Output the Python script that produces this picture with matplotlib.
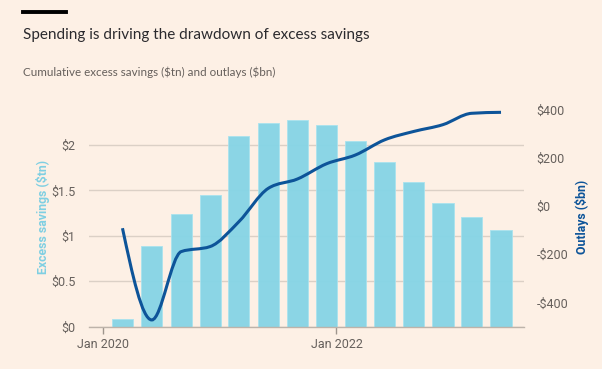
import matplotlib
matplotlib.use("Agg")
import matplotlib.pyplot as plt
import matplotlib.dates as mdates
from matplotlib.path import Path
from matplotlib.patches import PathPatch
from matplotlib.lines import Line2D
import numpy as np
import pandas as pd

# ---- data ----
dates = ["2020-03-01", "2020-06-01", "2020-09-01", "2020-12-01",
         "2021-03-01", "2021-06-01", "2021-09-01", "2021-12-01",
         "2022-03-01", "2022-06-01", "2022-09-01", "2022-12-01",
         "2023-03-01", "2023-06-01"]
excess_savings_tn = [0.08, 0.885, 1.24, 1.45, 2.10, 2.24, 2.28, 2.22,
                     2.04, 1.81, 1.59, 1.36, 1.21, 1.07]
outlays_bn = [-92, -472, -189, -168, -65, 73, 112, 175,
              211, 274, 309, 337, 384, 388]
left_ticks = [0, 0.5, 1, 1.5, 2]
left_labels = ["\\$0", "\\$0.5", "\\$1", "\\$1.5", "\\$2"]
right_ticks = [-400, -200, 0, 200, 400]
right_labels = ["-\\$400", "-\\$200", "\\$0", "\\$200", "\\$400"]
x_ticks = ["2020-01-01", "2022-01-01"]
x_labels = ["Jan 2020", "Jan 2022"]

# ---- style ----
BG = "#fdf0e5"
BAR = "#87d5e6"
LINE = "#0d5499"
TXT = "#66605c"
GRID = "#dbd0c6"

plt.rcParams["font.family"] = ["Roboto", "DejaVu Sans"]

fig = plt.figure(figsize=(6.02, 3.69), dpi=100, facecolor=BG)
ax = fig.add_axes([89.3 / 602, 42.3 / 369, (524.3 - 89.3) / 602, (326.7 - 90.6) / 369])
ax.set_facecolor(BG)

x = mdates.date2num(pd.to_datetime(dates))
ax.bar(x, excess_savings_tn, width=66, color=BAR, edgecolor="#a9e2ee",
       linewidth=0.6, alpha=0.97, zorder=2)

ax.set_ylim(0, 2.6)
ax.set_xlim(mdates.date2num(pd.Timestamp("2019-11-18")),
            mdates.date2num(pd.Timestamp("2023-08-13")))
ax.set_yticks(left_ticks)
ax.set_yticklabels(left_labels)
ax.yaxis.grid(True, color=GRID, linewidth=1, zorder=0)
ax.set_axisbelow(True)
for s in ["top", "right", "left"]:
    ax.spines[s].set_visible(False)
ax.spines["bottom"].set_color("#bdb3aa")
ax.spines["bottom"].set_linewidth(1)
ax.tick_params(axis="y", length=0, pad=10, labelsize=9, labelcolor=TXT)
ax.set_xticks(mdates.date2num(pd.to_datetime(x_ticks)))
ax.set_xticklabels(x_labels)
ax.tick_params(axis="x", length=5, width=1, color="#9e958d", pad=3,
               labelsize=9, labelcolor=TXT)

ax2 = ax.twinx()
ax2.set_ylim(-500, 478)
ax2.set_yticks(right_ticks)
ax2.set_yticklabels(right_labels)
ax2.tick_params(axis="y", length=0, pad=9, labelsize=9, labelcolor=TXT)
for s in ax2.spines.values():
    s.set_visible(False)

# monotone cubic curve (d3 curveMonotoneX style) through the data points
xs = np.asarray(x, float)
ys = np.asarray(outlays_bn, float)
h = np.diff(xs)
d = np.diff(ys) / h
m = np.zeros_like(ys)
for i in range(1, len(ys) - 1):
    p = (d[i - 1] * h[i] + d[i] * h[i - 1]) / (h[i - 1] + h[i])
    m[i] = (np.sign(d[i - 1]) + np.sign(d[i])) * min(abs(d[i - 1]), abs(d[i]), 0.5 * abs(p))
m[0] = (3 * d[0] - m[1]) / 2
m[-1] = (3 * d[-1] - m[-2]) / 2
verts = [(xs[0], ys[0])]
codes = [Path.MOVETO]
for i in range(len(xs) - 1):
    dx = h[i] / 3
    verts += [(xs[i] + dx, ys[i] + m[i] * dx),
              (xs[i + 1] - dx, ys[i + 1] - m[i + 1] * dx),
              (xs[i + 1], ys[i + 1])]
    codes += [Path.CURVE4] * 3
ax2.add_patch(PathPatch(Path(verts, codes), fill=False, edgecolor=LINE,
                        linewidth=2.2, capstyle="butt", zorder=3))

fig.text(42.7 / 602, 1 - 217 / 369, "Excess savings (\\$tn)", rotation=90,
         ha="center", va="center", color="#7fcfe2", fontsize=8.8, fontweight="bold")
fig.text(581.7 / 602, 1 - 217 / 369, "Outlays (\\$bn)", rotation=90,
         ha="center", va="center", color=LINE, fontsize=8.8, fontweight="bold")

fig.add_artist(Line2D([23.3 / 602, 65.7 / 602], [1 - 12 / 369] * 2,
                      color="black", linewidth=2.8, transform=fig.transFigure))
fig.text(23.3 / 602, 1 - 39.5 / 369, "Spending is driving the drawdown of excess savings",
         ha="left", va="baseline", fontsize=11.0, color="#2b2a2e",
         family=["Lato", "DejaVu Sans"])
fig.text(23.3 / 602, 1 - 76 / 369, "Cumulative excess savings (\\$tn) and outlays (\\$bn)",
         ha="left", va="baseline", fontsize=8.4, color=TXT,
         family=["Lato", "DejaVu Sans"])

fig.savefig("out.png", dpi=100, facecolor=BG)
